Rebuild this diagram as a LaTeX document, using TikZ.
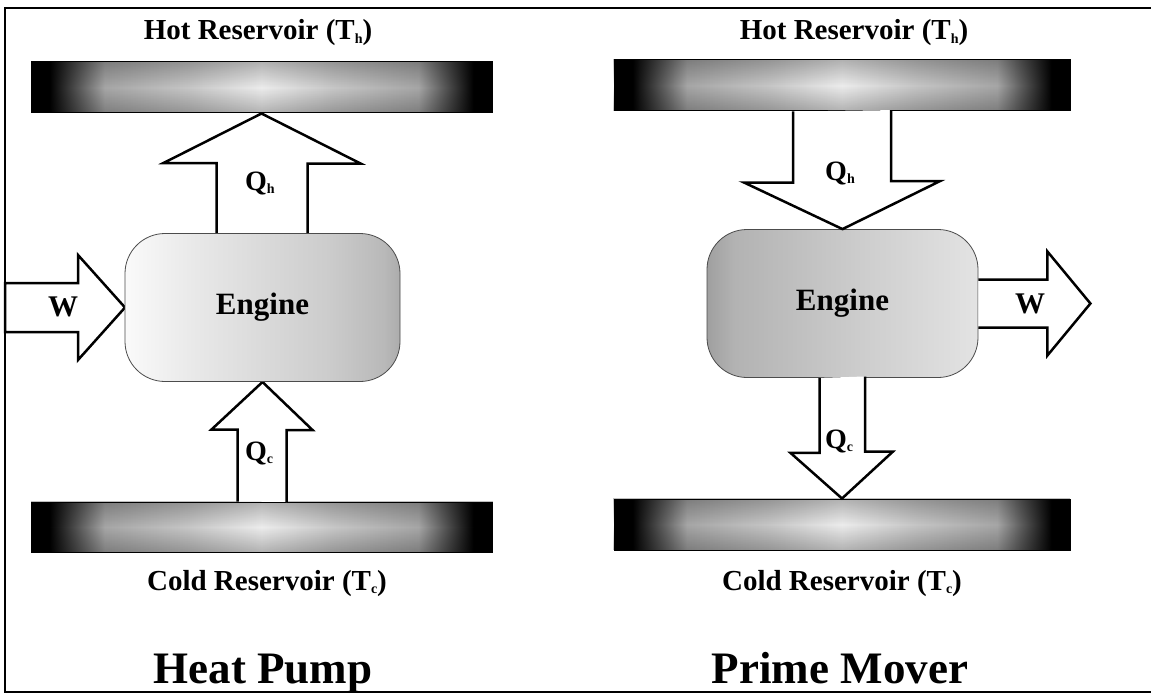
\documentclass[tikz,border=0pt]{standalone}
\usepackage{fontspec}
\setmainfont{Liberation Serif}
\usetikzlibrary{positioning,fadings}

% shadings for the bars and the two engines
\pgfdeclarehorizontalshading{reservoirshade}{100bp}{color(0bp)=(black); color(27bp)=(black); color(33bp)=(gray!70); color(42bp)=(gray!45); color(50bp)=(gray!15); color(58bp)=(gray!45); color(67bp)=(gray!70); color(73bp)=(black); color(100bp)=(black)}
\pgfdeclarehorizontalshading{pumpshade}{100bp}{color(0bp)=(gray!4); color(25bp)=(gray!4); color(38bp)=(gray!18); color(62bp)=(gray!40); color(72bp)=(gray!55); color(75bp)=(gray!65); color(100bp)=(gray!65)}
\pgfdeclarehorizontalshading{movershade}{100bp}{color(0bp)=(gray!75); color(25bp)=(gray!75); color(30bp)=(gray!60); color(55bp)=(gray!38); color(75bp)=(gray!22); color(100bp)=(gray!22)}
\tikzfading[name=barfade, top color=transparent!75, bottom color=transparent!75, middle color=transparent!100]

\tikzset{
  reservoir/.style={shade, shading=reservoirshade, draw=black, line width=1pt, inner sep=0pt},
  engine/.style={shade, rounded corners=40pt, draw=black!70, line width=0.8pt, minimum width=#1, minimum height=148pt, font=\bfseries\fontsize{31}{31}\selectfont},
  flow/.style={draw=black, line width=2.5pt, fill=white},
  title/.style={anchor=base, font=\bfseries\fontsize{29}{29}\selectfont},
  qlabel/.style={anchor=base, font=\bfseries\fontsize{28}{28}\selectfont},
  caption/.style={anchor=base, font=\bfseries\fontsize{45}{45}\selectfont}
}
\newcommand{\tinysub}[1]{\raisebox{-0.25ex}{\fontsize{14}{14}\selectfont #1}}

\begin{document}
\begin{tikzpicture}[x=1pt,y=-1pt]
\useasboundingbox (0,0) rectangle (1151,698);
\fill[white] (0,0) rectangle (1151,698);

% frame
\draw[line width=1.5pt] (1151,8) -- (5,8) -- (5,692) -- (1151,692);

% heat pump
\node[reservoir, minimum width=461pt, minimum height=51pt] (hotL) at (261.5,87.5) {};
\node[reservoir, minimum width=461pt, minimum height=50pt] (coldL) at (261.5,527) {};
\fill[black, path fading=barfade] (hotL.south west) rectangle (hotL.north east);
\fill[black, path fading=barfade] (coldL.south west) rectangle (coldL.north east);
\draw[flow] ([xshift=-46pt]262.5,233) -- ++(0,-70) -- ++(-53,0) -- (hotL.south) -- ++(99,50) -- ++(-53,0) -- ++(0,70);
\draw[flow] (125,307.5) -- ++(-47,-52.5) -- ++(0,28) -- ++(-73,0) -- ++(0,49) -- ++(73,0) -- ++(0,28) -- cycle;
\draw[flow] ([xshift=-24pt]coldL.north) -- ++(0,-72) -- ++(-26,0) -- (262.5,382) -- ++(50,48) -- ++(-26,0) -- ++(0,72);
\node[engine=275pt, shading=pumpshade] (engL) at (262.5,307.5) {Engine};

\node[title] (hotLtext) at (258,40) {Hot Reservoir (T\tinysub{h})};
\node[title] (coldLtext) at (267,590) {Cold Reservoir (T\tinysub{c})};
\node[qlabel] (qhL) at (260,190) {Q\tinysub{h}};
\node[qlabel] (qcL) at (259,460) {Q\tinysub{c}};
\node[qlabel, font=\bfseries\fontsize{30}{30}\selectfont] (wL) at (63,316) {W};
\node[caption] (pump) at (263,683) {Heat Pump};

% prime mover
\node[reservoir, minimum width=456pt, minimum height=51pt] (hotR) at (842,85.5) {};
\node[reservoir, minimum width=456pt, minimum height=51pt] (coldR) at (842,524.5) {};
\fill[black, path fading=barfade] (hotR.south west) rectangle (hotR.north east);
\fill[black, path fading=barfade] (coldR.south west) rectangle (coldR.north east);
\node[engine=271pt, shading=movershade] (engR) at (842.5,303.5) {Engine};
\draw[flow] ([xshift=-49pt]hotR.south) -- ++(0,71) -- ++(-49,0) -- (engR.north) -- ++(97.5,-48) -- ++(-49,0) -- ++(0,-71);
\draw[flow] ([yshift=24pt]engR.east) -- ++(69,0) -- ++(0,-28) -- ++(43,52) -- ++(-43,52) -- ++(0,-28) -- ++(-69,0);
\draw[flow] ([xshift=-23pt]engR.south) -- ++(0,75) -- ++(-29,0) -- (coldR.north) -- ++(51,-47) -- ++(-28,0) -- ++(0,-75);

\node[title] (hotRtext) at (854,40) {Hot Reservoir (T\tinysub{h})};
\node[title] (coldRtext) at (842,590) {Cold Reservoir (T\tinysub{c})};
\node[qlabel] (qhR) at (840,180) {Q\tinysub{h}};
\node[qlabel] (qcR) at (839,448) {Q\tinysub{c}};
\node[qlabel, font=\bfseries\fontsize{30}{30}\selectfont] (wR) at (1030,313) {W};
\node[caption] (mover) at (840,683) {Prime Mover};
\end{tikzpicture}
\end{document}
